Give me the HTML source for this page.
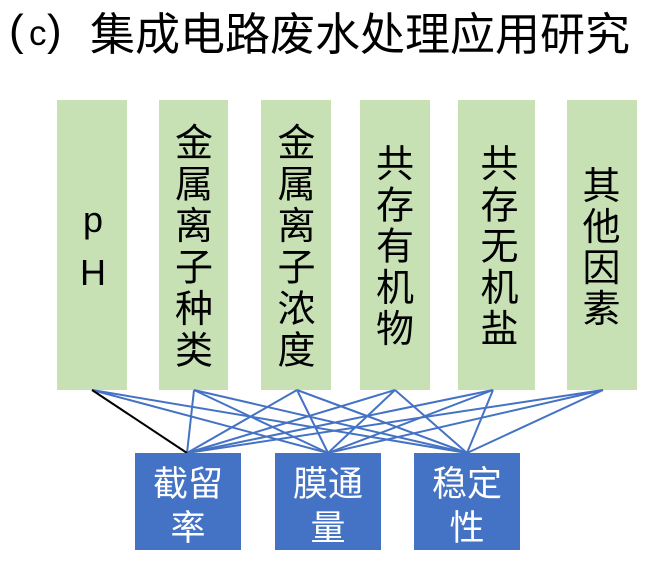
<!DOCTYPE html>
<html>
<head>
<meta charset="utf-8">
<style>
  html, body { margin: 0; padding: 0; background: #ffffff; }
  body { width: 661px; height: 567px; overflow: hidden; }
  svg { display: block; }
  .cjk { font-family: "Liberation Sans", "Noto Sans CJK SC", sans-serif; }
</style>
</head>
<body>
<svg width="661" height="567" viewBox="0 0 661 567" xmlns="http://www.w3.org/2000/svg">
  <rect x="0" y="0" width="661" height="567" fill="#ffffff"/>

  <!-- Title -->
  <text x="9" y="45" font-family="Liberation Sans, sans-serif" font-size="44" fill="#000">(</text>
  <text x="29" y="45" font-family="Liberation Sans, sans-serif" font-size="35" fill="#000">c</text>
  <text x="47" y="45" font-family="Liberation Sans, sans-serif" font-size="44" fill="#000">)</text>
  <text x="90" y="50" class="cjk" font-size="45" fill="#000">集成电路废水处理应用研究</text>

  <!-- Green boxes -->
  <g fill="#C7E1B5">
    <rect x="57" y="100" width="70" height="290"/>
    <rect x="159" y="100" width="69" height="290"/>
    <rect x="261" y="100" width="70" height="290"/>
    <rect x="360" y="100" width="70" height="290"/>
    <rect x="458" y="100" width="77" height="290"/>
    <rect x="567" y="100" width="70" height="290"/>
  </g>

  <!-- Connectors -->
  <g stroke="#4472C4" stroke-width="2" fill="none">
    <line x1="92" y1="390" x2="328" y2="453"/>
    <line x1="92" y1="390" x2="467" y2="453"/>
    <line x1="194" y1="390" x2="187" y2="453"/>
    <line x1="194" y1="390" x2="328" y2="453"/>
    <line x1="194" y1="390" x2="467" y2="453"/>
    <line x1="297" y1="390" x2="187" y2="453"/>
    <line x1="297" y1="390" x2="328" y2="453"/>
    <line x1="297" y1="390" x2="467" y2="453"/>
    <line x1="395" y1="390" x2="187" y2="453"/>
    <line x1="395" y1="390" x2="328" y2="453"/>
    <line x1="395" y1="390" x2="467" y2="453"/>
    <line x1="493" y1="390" x2="187" y2="453"/>
    <line x1="493" y1="390" x2="328" y2="453"/>
    <line x1="493" y1="390" x2="467" y2="453"/>
    <line x1="603" y1="390" x2="187" y2="453"/>
    <line x1="603" y1="390" x2="328" y2="453"/>
    <line x1="603" y1="390" x2="467" y2="453"/>
  </g>
  <line x1="92" y1="390" x2="187" y2="453" stroke="#000" stroke-width="2"/>

  <!-- Green box texts -->
  <g fill="#000" text-anchor="middle">
    <text x="93" y="232" font-family="Liberation Sans, sans-serif" font-size="36">p</text>
    <text x="93" y="285" font-family="Liberation Sans, sans-serif" font-size="36">H</text>

    <g class="cjk" font-size="38">
      <text x="194" y="156">金</text>
      <text x="194" y="197.5">属</text>
      <text x="194" y="239">离</text>
      <text x="194" y="280.5">子</text>
      <text x="194" y="322">种</text>
      <text x="194" y="363.5">类</text>

      <text x="296.5" y="156">金</text>
      <text x="296.5" y="197.5">属</text>
      <text x="296.5" y="239">离</text>
      <text x="296.5" y="280.5">子</text>
      <text x="296.5" y="322">浓</text>
      <text x="296.5" y="363.5">度</text>

      <text x="395" y="177">共</text>
      <text x="395" y="218.25">存</text>
      <text x="395" y="259.5">有</text>
      <text x="395" y="300.75">机</text>
      <text x="395" y="342">物</text>

      <text x="499.5" y="177">共</text>
      <text x="499.5" y="218.25">存</text>
      <text x="499.5" y="259.5">无</text>
      <text x="499.5" y="300.75">机</text>
      <text x="499.5" y="342">盐</text>

      <text x="601.5" y="199">其</text>
      <text x="601.5" y="240">他</text>
      <text x="601.5" y="281">因</text>
      <text x="601.5" y="322">素</text>
    </g>
  </g>

  <!-- Blue boxes -->
  <g fill="#4472C4">
    <rect x="135" y="453" width="106" height="97"/>
    <rect x="275" y="453" width="106" height="97"/>
    <rect x="414" y="453" width="106" height="97"/>
  </g>
  <g fill="#ffffff" text-anchor="middle" class="cjk" font-size="35">
    <text x="188" y="496">截留</text>
    <text x="188" y="540">率</text>
    <text x="328" y="496">膜通</text>
    <text x="328" y="540">量</text>
    <text x="467" y="496">稳定</text>
    <text x="467" y="540">性</text>
  </g>
</svg>
</body>
</html>
